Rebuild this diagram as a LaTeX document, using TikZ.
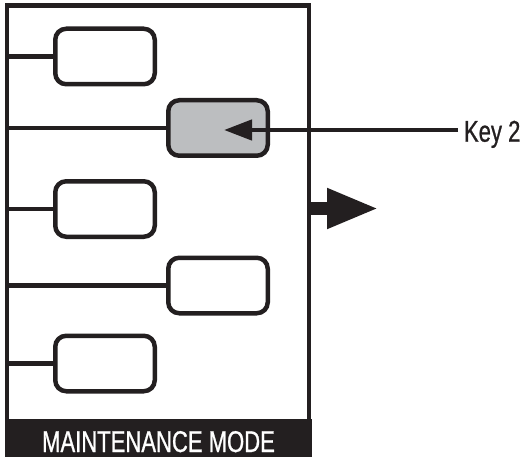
\documentclass[tikz,border=0pt]{standalone}
\usepackage{fontspec}
\newfontfamily\condfont{Liberation Sans}[FakeStretch=0.735,FakeBold=0.8]
\usetikzlibrary{arrows.meta}
\definecolor{ink}{HTML}{231F20}
\definecolor{keygray}{HTML}{BCBEC0}
\tikzset{
  keybox/.style={draw=ink, line width=4.5pt, rounded corners=11pt, minimum width=99.5pt, minimum height=55.5pt, inner sep=0pt, outer sep=0pt, fill=white},
  wire/.style={draw=ink, line width=4.5pt},
  lbl/.style={font=\condfont\fontsize{30}{32}\selectfont, inner sep=0pt, outer sep=0pt},
}
\begin{document}
\begin{tikzpicture}[x=1pt,y=-1pt]
\useasboundingbox (0,0) rectangle (524,457);
% frame
\node[draw=ink, line width=4.5pt, minimum width=302pt, minimum height=432.5pt, inner sep=0pt, outer sep=0pt, anchor=north west] (frame) at (7,5.5) {};
\node[fill=ink, minimum width=307pt, minimum height=38pt, inner sep=0pt, outer sep=0pt, anchor=north west] (band) at (4.75,419) {};
\node[lbl, text=white, anchor=base] (mode) at (158.5,452) {MAINTENANCE MODE};
% keys
\node[keybox] (b1) at (105,56.5) {};
\node[keybox, fill=keygray] (b2) at (218,128) {};
\node[keybox] (b3) at (105,209) {};
\node[keybox] (b4) at (218,285.5) {};
\node[keybox] (b5) at (105,363.5) {};
\foreach \b in {b1,b2,b3,b4,b5}
  \draw[wire] (frame.west |- \b.west) -- (\b.west);
% key 2 label and arrow
\node[lbl, text=ink, anchor=base west] (key) at (464,141.7) {Key 2};
\coordinate (keystart) at (458,130);
\coordinate (keytip) at (224,130);
\draw[wire, -{Triangle[length=28pt,width=20pt]}] (keystart) -- (keytip);
% exit arrow
\coordinate (bigtip) at (379,208.5);
\draw[draw=ink, fill=ink, line width=13pt, -{Triangle[length=52pt,width=37pt]}] (frame.east |- bigtip) -- (bigtip);
\end{tikzpicture}
\end{document}
